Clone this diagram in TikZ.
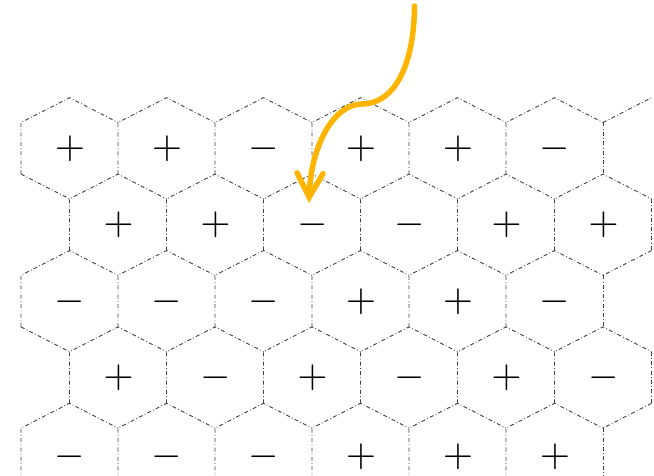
\documentclass[tikz,border=0pt]{standalone}
\usetikzlibrary{arrows.meta}
\definecolor{arroworange}{RGB}{255,180,0}
\begin{document}
\begin{tikzpicture}[x=1pt,y=-1pt,
  hexedge/.style={draw=black!75, line width=0.9pt, dash pattern=on 4pt off 2.3pt on 0.8pt off 2.3pt},
  sign/.style={inner sep=0pt, scale=3.9},
  bigarrow/.style={draw=arroworange, line width=5.5pt, line cap=round, line join=round,
    -{Straight Barb[length=24pt,width=26pt,line cap=round]}}]
\useasboundingbox (0,0) rectangle (654,476);
\begin{scope}
\clip (0,0) rectangle (654,476);
% hexagon grid: upper edges and left edge of every cell
\foreach \r in {0,...,4}{
  \pgfmathsetmacro{\cy}{148.3+76.4*\r}
  \pgfmathsetmacro{\xo}{mod(\r,2)==0 ? 69.5 : 118}
  \foreach \k in {0,...,5}{
    \pgfmathsetmacro{\cx}{\xo+97*\k}
    \draw[hexedge] (\cx-48.5,\cy+25.8) -- (\cx-48.5,\cy-25.8) -- (\cx,\cy-50.6) -- (\cx+48.5,\cy-25.8);
  }
  % right edge of last cell in the row
  \pgfmathsetmacro{\xr}{\xo+97*5+48.5}
  \draw[hexedge] (\xr,\cy-25.8) -- (\xr,\cy+25.8);
}
% boundary lower edges
\foreach \r in {0,2}{
  \pgfmathsetmacro{\cy}{148.3+76.4*\r}
  \draw[hexedge] (21,\cy+25.8) -- (69.5,\cy+50.6);
}
\foreach \r in {1,3}{
  \pgfmathsetmacro{\cy}{148.3+76.4*\r}
  \draw[hexedge] (651.5,\cy+25.8) -- (603,\cy+50.6);
}
\foreach \k in {0,...,5}{
  \pgfmathsetmacro{\cx}{69.5+97*\k}
  \draw[hexedge] (\cx-48.5,479.7) -- (\cx,504.5) -- (\cx+48.5,479.7);
}
% partial edge at the top right
\draw[hexedge] (603,122.5) -- (651.5,97.7);
\end{scope}
% signs
\foreach \r/\signs in {0/{+,+,-,+,+,-},1/{+,+,-,-,+,+},2/{-,-,-,+,+,-},3/{+,-,+,-,+,-},4/{-,-,-,+,+,+}}{
  \pgfmathsetmacro{\cy}{148.3+76.4*\r+(\r==4 ? 2.5 : 0.5)}
  \pgfmathsetmacro{\xo}{mod(\r,2)==0 ? 69.5 : 118}
  \foreach \s [count=\k from 0] in \signs {
    \pgfmathsetmacro{\cx}{\xo+97*\k+0.5}
    \node[sign] (s\r\k) at (\cx,\cy) {$\s$};
  }
}
% arrow
\coordinate (arrowstart) at (414.5,6);
\coordinate (arrowbend) at (362,104);
\coordinate (arrowend) at (309,203);
\draw[bigarrow] (arrowstart) .. controls (414,70) and (392,104) .. (arrowbend)
  .. controls (334,104) and (311,145) .. (arrowend);
\end{tikzpicture}
\end{document}
